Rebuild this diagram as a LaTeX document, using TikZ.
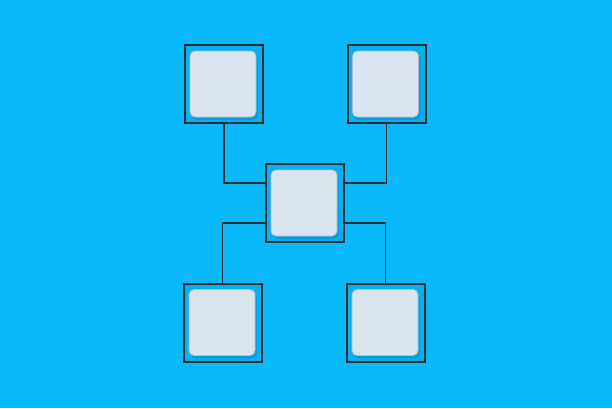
\documentclass[tikz,border=0pt]{standalone}
\usetikzlibrary{shadows}
\definecolor{bgblue}{HTML}{0AB9F9}
\definecolor{boxblue}{HTML}{08B0F0}
\definecolor{shadeblue}{HTML}{0790C8}
\definecolor{framegray}{HTML}{2B2F33}
\definecolor{tilegray}{HTML}{D9E4EF}
\definecolor{tileedge}{HTML}{AFC0D0}

\begin{document}
\begin{tikzpicture}[x=1pt,y=-1pt,
  frame/.style={draw=framegray,line width=2pt,fill=boxblue,minimum size=78pt,inner sep=0pt},
  tile/.style={draw=tileedge,line width=0.8pt,fill=tilegray,rounded corners=5pt,
    minimum size=66pt,inner sep=0pt,
    drop shadow={shadow xshift=2pt,shadow yshift=-3pt,fill=shadeblue,opacity=0.6}},
  link/.style={draw=framegray,line width=1.5pt}]
\fill[bgblue] (0,0) rectangle (612,408);
% frames
\node [frame] (tl) at (224,84) {};
\node [frame] (tr) at (386.5,84) {};
\node [frame] (c) at (304.5,203) {};
\node [frame] (bl) at (222.5,322.5) {};
\node [frame] (br) at (385.5,322.5) {};
% tiles
\node [tile] (tlt) at (223,84) {};
\node [tile] (trt) at (385.5,84) {};
\node [tile] (ct) at (304,203) {};
\node [tile] (blt) at (222,322.5) {};
\node [tile] (brt) at (385,322.5) {};
% links
\draw [link] (tl.south) |- ([yshift=20pt]c.west);
\draw [link] (tr.south) |- ([yshift=20pt]c.east);
\draw [link] ([yshift=-20pt]c.west) -| (bl.north);
\draw [link] ([yshift=-20pt]c.east) -| (br.north);
\end{tikzpicture}
\end{document}
